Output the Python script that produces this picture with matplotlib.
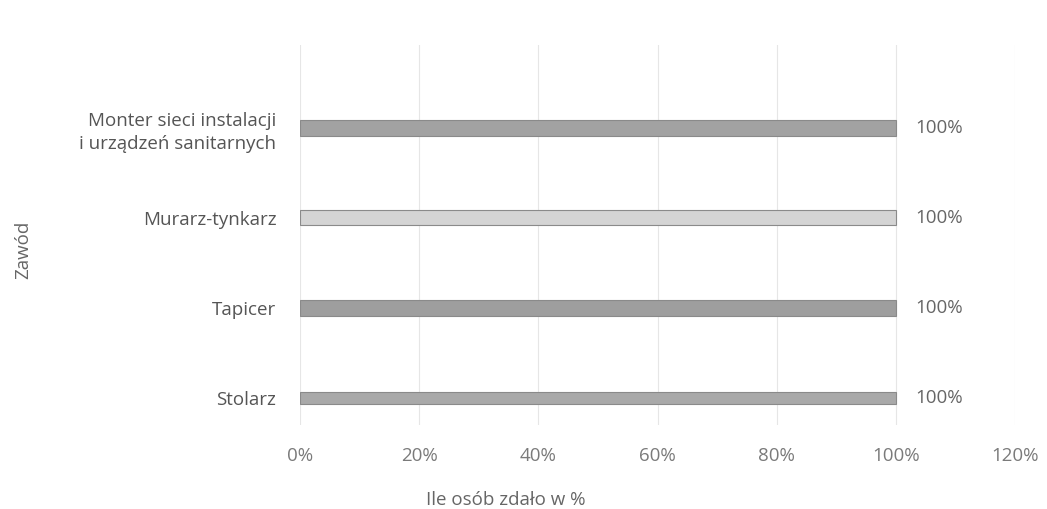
import numpy as np
import matplotlib.pyplot as plt

plt.rcParams['font.family'] = ['Open Sans', 'DejaVu Sans']

zawody = ['Stolarz', 'Tapicer', 'Murarz-tynkarz', 'Monter sieci instalacji\ni urządzeń sanitarnych']
zdalo = [1.0, 1.0, 1.0, 1.0]
kolory = ['#a9a9a9', '#9e9e9e', '#d4d4d4', '#a2a2a2']
grubosc = [0.14, 0.17, 0.17, 0.18]
xticks = [0, 0.2, 0.4, 0.6, 0.8, 1.0, 1.2]

fig = plt.figure(figsize=(10.47, 5.09), dpi=100)
ax = fig.add_axes([0.2865, 0.165, 0.683, 0.747])

y = np.arange(len(zawody))
ax.barh(y, zdalo, height=grubosc, color=kolory, edgecolor='#8a8a8a', linewidth=0.8, zorder=3)

for i, v in enumerate(zdalo):
    ax.text(v + 0.033, y[i], '{:.0f}%'.format(v * 100), va='center', ha='left',
            fontsize=13.5, color='#666666')

ax.set_xlim(0, 1.2)
ax.set_ylim(-0.3, 3.92)
ax.set_xticks(xticks)
ax.set_xticklabels(['{:.0f}%'.format(t * 100) for t in xticks], fontsize=13.5, color='#7a7a7a')
ax.set_yticks(y)
ax.set_yticklabels(zawody, fontsize=13.5, color='#555555', ha='right', multialignment='right',
                   linespacing=1.35)
ax.tick_params(axis='y', length=0, pad=17)
ax.tick_params(axis='x', length=0, pad=16)
ax.grid(axis='x', color='#e6e6e6', linewidth=0.8, zorder=0)
for s in ax.spines.values():
    s.set_visible(False)

fig.text(0.483, 0.0, 'Ile osób zdało w %', ha='center', va='bottom', fontsize=13.5, color='#666666')
fig.text(0.022, 0.51, 'Zawód', ha='center', va='center', rotation=90, fontsize=13.5, color='#666666')

plt.savefig('out.png', dpi=100, facecolor='white')
